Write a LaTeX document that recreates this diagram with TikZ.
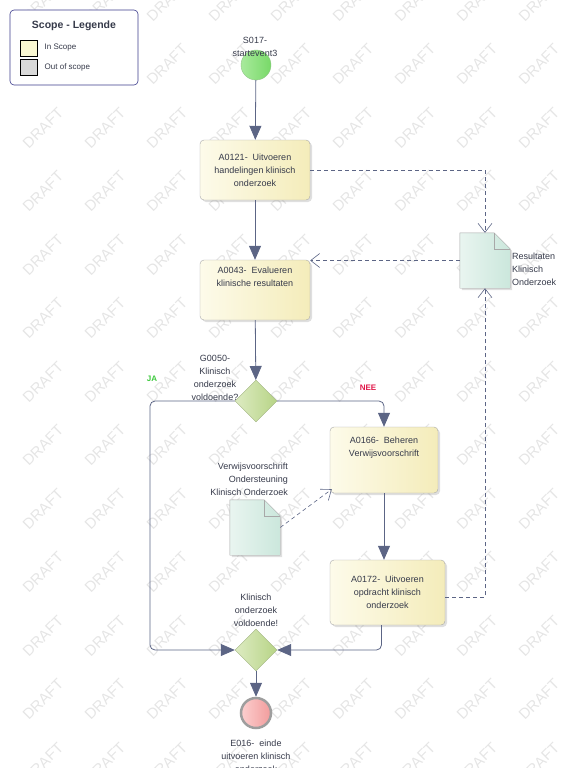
\documentclass[tikz,border=0pt]{standalone}
\usepackage{fontspec}
\setmainfont{Liberation Sans}
\usetikzlibrary{arrows.meta,positioning,shapes.geometric,shadows}
\definecolor{txt}{HTML}{363A4A}
\definecolor{boxline}{HTML}{A8A8A8}
\definecolor{taskleft}{HTML}{FDFBEA}
\definecolor{taskright}{HTML}{F4ECBA}
\definecolor{flowcol}{HTML}{5C6585}
\definecolor{gateleft}{HTML}{DDEBC2}
\definecolor{gateright}{HTML}{B7D486}
\definecolor{gateline}{HTML}{9FB27E}
\definecolor{startleft}{HTML}{A8EA9C}
\definecolor{startright}{HTML}{78D968}
\definecolor{endleft}{HTML}{FCCFCF}
\definecolor{endright}{HTML}{F29C9C}
\definecolor{docleft}{HTML}{E9F5F0}
\definecolor{docright}{HTML}{CBE7DC}
\definecolor{legendline}{HTML}{3C3C8C}
\definecolor{inscope}{HTML}{FAF8D2}
\definecolor{outscope}{HTML}{D9D9D9}
\definecolor{jagreen}{HTML}{3CC83C}
\definecolor{neered}{HTML}{E0184A}

\begin{document}
\begin{tikzpicture}[
    x=1pt, y=-1pt,
    lbl/.style={font=\fontsize{9}{13}\selectfont, text=txt, align=center, inner sep=0pt},
    task/.style={
        rectangle,
        rounded corners=4pt,
        draw=boxline,
        left color=taskleft,
        right color=taskright,
        minimum width=110pt,
        minimum height=60pt,
        align=center,
        text=txt,
        font=\fontsize{9}{13}\selectfont,
        drop shadow={shadow xshift=2pt, shadow yshift=-2pt, opacity=0.25}
    },
    gate/.style={
        diamond,
        draw=gateline,
        left color=gateleft,
        right color=gateright,
        minimum size=42pt,
        inner sep=0pt
    },
    event/.style={circle, minimum size=30pt, inner sep=0pt},
    docnode/.style={rectangle, minimum width=50pt, minimum height=55pt, inner sep=0pt},
    docshape/.style={draw=boxline, left color=docleft, right color=docright,
        drop shadow={shadow xshift=2pt, shadow yshift=-2pt, opacity=0.25}},
    flow/.style={draw=flowcol, thick, -{Triangle[length=14pt,width=12pt]}},
    assoc/.style={draw=flowcol, semithick, dashed, dash pattern=on 4pt off 3pt,
        -{Straight Barb[length=9pt,width=14pt]}},
    wm/.style={rotate=45, text=black!10, font=\fontsize{15}{15}\selectfont}
]
\useasboundingbox (0,0) rectangle (563,768);

% watermark
\foreach \i in {0,...,9}
    \foreach \j in {0,...,12}
        \node[wm] at (43+62*\i, 1+63.5*\j) {DRAFT};

% legend
\node[draw=legendline, rounded corners=4pt, fill=white, semithick,
      minimum width=128pt, minimum height=75pt] (legend) at (74,47.5) {};
\node[font=\fontsize{10.5}{12}\selectfont\bfseries, text=txt] (legtitle) at (74,26) {Scope - Legende};
\node[draw=black, fill=inscope, minimum width=17pt, minimum height=16pt, inner sep=0pt] (swin) at (28.5,48) {};
\node[draw=black, fill=outscope, minimum width=17pt, minimum height=16pt, inner sep=0pt] (swout) at (28.5,67) {};
\node[font=\fontsize{8}{9}\selectfont, text=txt, right=4pt of swin] (lin) {In Scope};
\node[font=\fontsize{8}{9}\selectfont, text=txt, right=4pt of swout] (lout) {Out of scope};

% main column
\node[event, draw=startright!80!black!70, left color=startleft, right color=startright] (start) at (256,65) {};
\node[lbl] (startlbl) at (255,47) {S017-\\startevent3};

\node[task] (a0121) at (255,170) {A0121-\ \ Uitvoeren\\handelingen klinisch\\onderzoek};
\node[task] (a0043) at (255,290) {A0043-\ \ Evalueren\\klinische resultaten\\[13pt]};

\node[gate] (g1) at (256,401) {};
\node[lbl] (g1lbl) at (215,378) {G0050-\\Klinisch\\onderzoek\\voldoende?};

\node[task, minimum width=108pt, minimum height=66pt] (a0166) at (384,460) {A0166-\ \ Beheren\\Verwijsvoorschrift\\[13pt]};
\node[task, minimum width=115pt, minimum height=65pt] (a0172) at (387.5,592.5) {A0172-\ \ Uitvoeren\\opdracht klinisch\\onderzoek};

\node[gate] (g2) at (256,650) {};
\node[lbl] (g2lbl) at (256,610) {Klinisch\\onderzoek\\voldoende!};

\node[event, draw=black!38, line width=2.5pt, left color=endleft, right color=endright] (stop) at (256,713) {};
\node[lbl] (stoplbl) at (256,756) {E016-\ \ einde\\uitvoeren klinisch\\onderzoek};

% data objects
\node[docnode] (res) at (485,260.5) {};
\draw[docshape] (res.north west) -- ([xshift=-16pt]res.north east) -- ([yshift=-16pt]res.north east)
    -- (res.south east) -- (res.south west) -- cycle;
\draw[boxline] ([xshift=-16pt]res.north east) -- ([xshift=-16pt,yshift=-16pt]res.north east) -- ([yshift=-16pt]res.north east);
\node[lbl, align=left, anchor=west] (reslbl) at (512,269) {Resultaten\\Klinisch\\Onderzoek};

\node[docnode] (verw) at (255,527.5) {};
\draw[docshape] (verw.north west) -- ([xshift=-16pt]verw.north east) -- ([yshift=-16pt]verw.north east)
    -- (verw.south east) -- (verw.south west) -- cycle;
\draw[boxline] ([xshift=-16pt]verw.north east) -- ([xshift=-16pt,yshift=-16pt]verw.north east) -- ([yshift=-16pt]verw.north east);
\node[lbl, align=right, anchor=east] (verwlbl) at (288,479) {Verwijsvoorschrift\\Ondersteuning\\Klinisch Onderzoek};

% sequence flows
\coordinate (jabend) at (150,650);
\draw[flow] (start) -- (a0121);
\draw[flow] (a0121) -- (a0043);
\draw[flow] (a0043) -- (g1);
\draw[flow, rounded corners=5pt] (g1.west) -| (jabend) -- (g2.west);
\draw[flow, rounded corners=5pt] (g1.east) -| (a0166.north);
\draw[flow] (a0166.south) -- (a0166.south |- a0172.north);
\draw[flow, rounded corners=5pt] ([xshift=-6pt]a0172.south) |- (g2.east);
\draw[flow] (g2) -- (stop);

\node[font=\fontsize{8}{9}\selectfont\bfseries, text=jagreen] (ja) at (152,379) {JA};
\node[font=\fontsize{8}{9}\selectfont\bfseries, text=neered] (nee) at (368,388) {NEE};

% associations
\draw[assoc] (a0121.east) -| (res.north);
\draw[assoc] (res.west) -- (res.west -| a0043.east);
\draw[assoc] ([yshift=-5pt]a0172.east) -| (res.south);
\draw[assoc] (verw.east) -- ([shift={(2pt,4pt)}]a0166.south west);

\end{tikzpicture}
\end{document}
